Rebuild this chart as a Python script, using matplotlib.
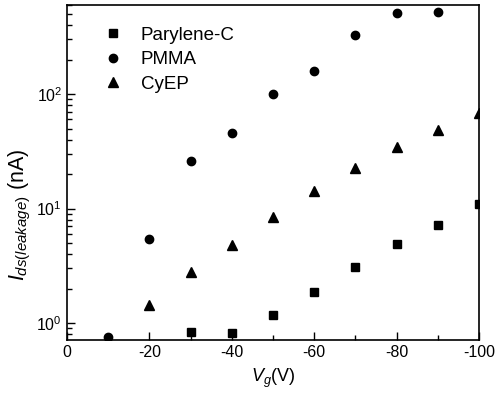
import matplotlib
matplotlib.use('Agg')
from matplotlib import pyplot as plt
from matplotlib.ticker import MultipleLocator, LogLocator

plt.rcParams['font.family'] = ['Liberation Sans', 'DejaVu Sans']
plt.rcParams['mathtext.fontset'] = 'custom'
plt.rcParams['mathtext.rm'] = 'Liberation Sans'
plt.rcParams['mathtext.it'] = 'Liberation Sans:italic'
plt.rcParams['axes.unicode_minus'] = False

# =================================
# Data (gate voltage in V, leakage current in nA)
# =================================
vg_parylene = [-30, -40, -50, -60, -70, -80, -90, -100]
i_parylene = [0.834, 0.82, 1.17, 1.85, 3.08, 4.87, 7.13, 10.9]

vg_pmma = [-10, -20, -30, -40, -50, -60, -70, -80, -90]
i_pmma = [0.75, 5.45, 26.1, 45.9, 100.6, 159, 330, 510, 523]

vg_cyep = [-20, -30, -40, -50, -60, -70, -80, -90, -100]
i_cyep = [1.43, 2.8, 4.77, 8.38, 14.2, 22.5, 34.4, 48.5, 67.8]

fig = plt.figure(figsize=(4.95, 4.09), dpi=100)
ax = fig.add_axes([0.1354, 0.1687, 0.8323, 0.8191])

# points at the right border get clipped by the frame, as in the original
ax.plot(vg_parylene, i_parylene, 's', color='k', ms=5.5, label='Parylene-C')
ax.plot(vg_pmma, i_pmma, 'o', color='k', ms=6, label='PMMA')
ax.plot(vg_cyep, i_cyep, '^', color='k', ms=7, label='CyEP')

ax.set_yscale('log')
ax.set_xlim(0, -100)
ax.set_ylim(0.71, 600)

ax.xaxis.set_major_locator(MultipleLocator(20))
ax.xaxis.set_minor_locator(MultipleLocator(10))
ax.yaxis.set_major_locator(LogLocator(base=10))
ax.yaxis.set_minor_locator(LogLocator(base=10, subs=range(2, 10)))

ax.tick_params(which='both', direction='in', top=False, right=False, labelsize=11.5)
ax.tick_params(which='major', length=6, width=1)
ax.tick_params(which='minor', length=3.5, width=1)
for s in ax.spines.values():
    s.set_visible(True)
    s.set_linewidth(1.2)

ax.set_xlabel('$V_g$(V)', fontsize=13, labelpad=5)
ax.set_ylabel('$I_{ds(leakage)}$ (nA)', fontsize=15.5)
ax.yaxis.set_label_coords(-0.083, 0.373)

leg = ax.legend(loc='upper left', frameon=False, fontsize=13.5, handletextpad=0.72,
                borderaxespad=0.0, bbox_to_anchor=(0.06, 0.958), labelspacing=0.4,
                handlelength=1.5)

fig.savefig('out.png', dpi=100)
